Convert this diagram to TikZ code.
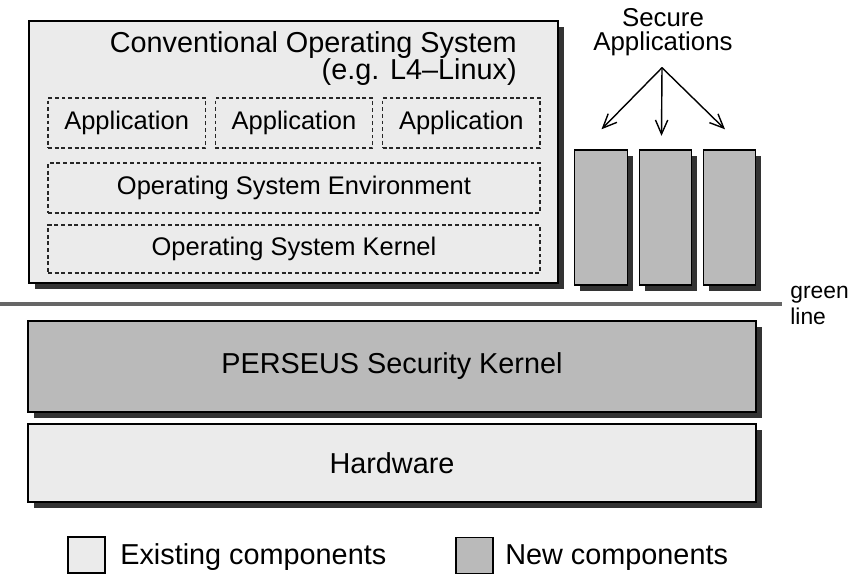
\documentclass[tikz,border=0pt]{standalone}
\usepackage{fontspec}
\setmainfont{Liberation Sans}
\usetikzlibrary{positioning, arrows.meta, shadows}

\tikzset{
	existing/.style={draw, rectangle, line width=0.8pt, fill=black!8, text centered},
	newcomp/.style={draw, rectangle, line width=0.8pt, fill=black!27, text centered},
	shadowed/.style={drop shadow={shadow xshift=0.11cm, shadow yshift=-0.13cm, fill=black!80, opacity=1}},
	layer/.style={draw=black!85, rectangle, dash pattern=on 2.2pt off 1.6pt, line width=0.7pt, 
	text centered, font=\fontsize{14.5}{17}\selectfont},
	secure arrow/.style={-{Straight Barb[length=8pt, width=7pt]}, line width=0.8pt},
	separator/.style={line width=2pt, draw=black!60},
}

\begin{document}
\begin{tikzpicture}
		\useasboundingbox (0,0) rectangle (17,-11.5);
		
		%Conventional operating system and its layers
		\node (Conventional OS) at (5.87,-3.04) [existing, shadowed, minimum width=10.58cm, 
		minimum height=5.24cm]{};
		\node (Title) at (10.34,-1.6) [anchor=base east, align=right, inner sep=0pt, 
		font=\fontsize{16.4}{15.6}\selectfont]{Conventional Operating System\\(e.g. L4--Linux)};
		\node (Application1) at (2.533,-2.46) [layer, minimum width=3.147cm, minimum height=1cm]{Application};
		\node (Application2) at (5.88,-2.46) [layer, minimum width=3.147cm, minimum height=1cm]{Application};
		\node (Application3) at (9.227,-2.46) [layer, minimum width=3.147cm, minimum height=1cm]{Application};
		\node (OS Environment) at (5.88,-3.76) [layer, minimum width=9.84cm, 
		minimum height=1cm]{Operating System Environment};
		\node (OS Kernel) at (5.88,-4.98) [layer, minimum width=9.84cm, 
		minimum height=0.96cm]{Operating System Kernel};
		
		%Secure applications
		\node (Secure App1) at (12.02,-4.35) [newcomp, shadowed, minimum width=1.05cm, minimum height=2.7cm]{};
		\node (Secure App2) at (13.31,-4.35) [newcomp, shadowed, minimum width=1.05cm, minimum height=2.7cm]{};
		\node (Secure App3) at (14.59,-4.35) [newcomp, shadowed, minimum width=1.05cm, minimum height=2.7cm]{};
		\node (Secure) at (13.26,-1.02) [anchor=base, align=center, inner sep=0pt, 
		font=\fontsize{14.7}{14.2}\selectfont]{Secure\\Applications};
		
		%Arrows towards the secure applications
		\coordinate (Fork) at ([xshift=-0.02cm, yshift=-0.22cm]Secure.south);
		\coordinate (Tip1) at ([xshift=0.01cm, yshift=0.4cm]Secure App1.north);
		\coordinate (Tip2) at ([xshift=-0.08cm, yshift=0.27cm]Secure App2.north);
		\coordinate (Tip3) at ([xshift=-0.09cm, yshift=0.4cm]Secure App3.north);
		\draw[secure arrow] (Fork) -- (Tip1);
		\draw[secure arrow] (Fork) -- (Tip2);
		\draw[secure arrow] (Fork) -- (Tip3);
		
		%Green line
		\node (Green Line) at (15.8,-6.5) [anchor=base west, align=left, inner sep=0pt, 
		font=\fontsize{13}{15.3}\selectfont]{green\\line};
		\coordinate (Line Start) at (0,-6.08);
		\draw[separator, shorten >=0.16cm] (Line Start) -- (Line Start -| Green Line.west);
		
		%Security kernel and hardware
		\node (PERSEUS) at (7.84,-7.33) [newcomp, shadowed, minimum width=14.56cm, minimum height=1.82cm, 
		font=\fontsize{16.4}{19}\selectfont]{PERSEUS Security Kernel};
		\node (Hardware) at (7.84,-9.26) [existing, shadowed, minimum width=14.56cm, minimum height=1.56cm, 
		font=\fontsize{16.4}{19}\selectfont]{Hardware};
		
		%Legend
		\node (Existing Box) at (1.73,-11.1) [existing, line width=0.6pt, minimum width=0.74cm, minimum height=0.72cm]{};
		\node (Existing Text) at (2.4,-11.3) [anchor=base west, inner sep=0pt, 
		font=\fontsize{16.4}{19}\selectfont]{Existing components};
		\node (New Box) at (9.49,-11.11) [newcomp, line width=0.6pt, minimum width=0.74cm, minimum height=0.72cm]{};
		\node (New Text) at (10.1,-11.3) [anchor=base west, inner sep=0pt, 
		font=\fontsize{16.4}{19}\selectfont]{New components};
		
\end{tikzpicture}
\end{document}
